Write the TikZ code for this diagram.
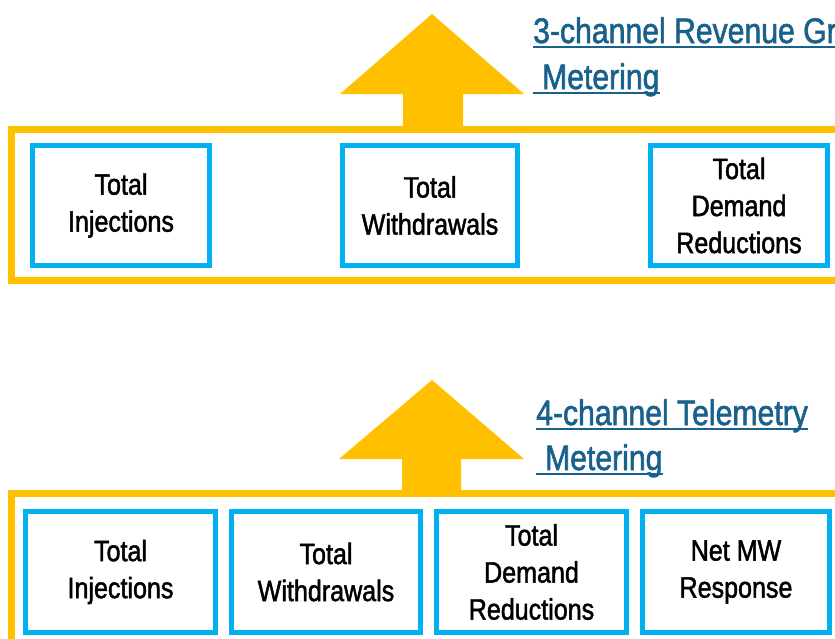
\documentclass[tikz,border=0pt]{standalone}
\usepackage{fontspec}
\setmainfont[FakeStretch=0.85, FakeBold=1.6]{Liberation Sans}
\definecolor{gold}{HTML}{FFC000}
\definecolor{skyblue}{HTML}{00B0F0}
\definecolor{linkblue}{HTML}{19618C}
\tikzset{
  frame/.style={draw=gold, line width=7pt},
  boxa/.style={draw=skyblue, line width=5pt, fill=white, minimum height=120pt, inner sep=0pt,
    align=center, font=\fontsize{29.5}{37}\selectfont, text=black},
  titletext/.style={anchor=base west, inner sep=0pt, text=linkblue, font=\fontsize{35.5}{46}\selectfont},
  uline/.style={draw=linkblue, line width=2pt},
  bigarrow/.style={fill=gold, draw=none}
}
\begin{document}
\begin{tikzpicture}[x=1pt, y=-1pt]
\useasboundingbox (0,0) rectangle (835,638);
\clip (0,0) rectangle (835,638);
% ---- top group ----
\fill[bigarrow] (432,14) -- (524,94) -- (463,94) -- (463,127) -- (403,127) -- (403,94) -- (340,94) -- cycle;
\draw[frame] (845,129.5) -- (11.5,129.5) -- (11.5,280.5) -- (845,280.5);
\node[boxa, minimum width=177pt] (t1) at (121,205.5) {Total\\Injections};
\node[boxa, minimum width=175pt] (t2) at (430,205.5) {Total\\Withdrawals};
\node[boxa, minimum width=177pt] (t3) at (739,205.5) {Total\\Demand\\Reductions};
\node[titletext] (h1) at (533,43) {3-channel Revenue Grade};
\node[titletext] (h2) at (533,89) {\hspace{0.25em}Metering\hspace{0.25em}};
\draw[uline] ([yshift=-4pt]h1.base west) -- ([yshift=-4pt]h1.base east);
\draw[uline] ([yshift=-4pt]h2.base west) -- ([yshift=-4pt]h2.base east);
% ---- bottom group ----
\fill[bigarrow] (432,380) -- (524,459) -- (461,459) -- (461,491) -- (402,491) -- (402,459) -- (339,459) -- cycle;
\draw[frame] (845,493.5) -- (11.5,493.5) -- (11.5,650);
\node[boxa, minimum width=190pt, minimum height=121pt] (b1) at (120.5,572) {Total\\Injections};
\node[boxa, minimum width=189pt, minimum height=121pt] (b2) at (326,572) {Total\\Withdrawals};
\node[boxa, minimum width=190pt, minimum height=121pt] (b3) at (531.5,572) {Total\\Demand\\Reductions};
\node[boxa, minimum width=187pt, minimum height=121pt] (b4) at (736,572) {Net MW\\Response};
\node[titletext] (h3) at (536,425) {4-channel Telemetry};
\node[titletext] (h4) at (536,470) {\hspace{0.25em}Metering\hspace{0.25em}};
\draw[uline] ([yshift=-4pt]h3.base west) -- ([yshift=-4pt]h3.base east);
\draw[uline] ([yshift=-4pt]h4.base west) -- ([yshift=-4pt]h4.base east);
\end{tikzpicture}
\end{document}
